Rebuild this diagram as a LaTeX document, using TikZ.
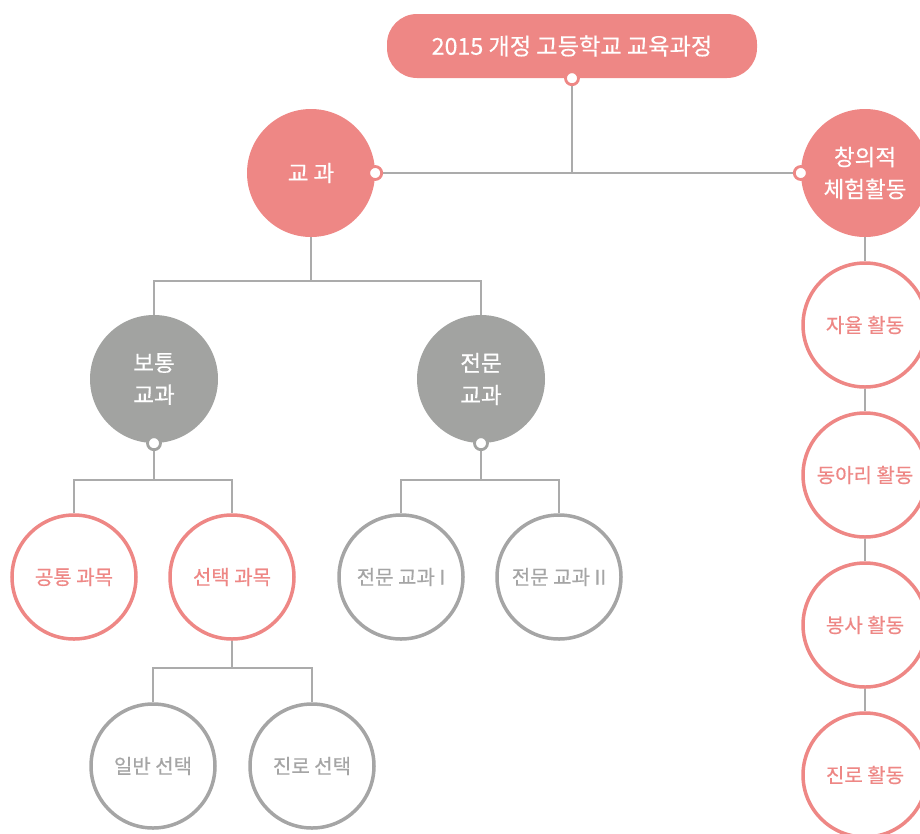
\documentclass[tikz,border=0pt]{standalone}
\usepackage{fontspec}
\setmainfont[FakeBold=0.4]{Noto Sans CJK KR}
\definecolor{pinkc}{HTML}{EE8785}
\definecolor{grayc}{HTML}{A2A3A1}
\definecolor{ringg}{HTML}{A5A5A5}
\definecolor{linegray}{HTML}{ABABAB}
\begin{document}
\begin{tikzpicture}[x=1pt,y=-1pt,
  conn/.style={draw=linegray,line width=1.4pt},
  titlebox/.style={rectangle,rounded corners=30pt,fill=pinkc,minimum width=370pt,minimum height=64pt,text=white,font=\fontsize{23.2}{28}\selectfont},
  fillpink/.style={circle,fill=pinkc,minimum size=128pt,inner sep=0pt,text=white,align=center,font=\fontsize{22.5}{32}\selectfont},
  fillgray/.style={circle,fill=grayc,minimum size=128pt,inner sep=0pt,text=white,align=center,font=\fontsize{22.5}{32}\selectfont},
  ringpink/.style={circle,draw=pinkc,line width=3.5pt,fill=white,minimum size=124pt,inner sep=0pt,text=pinkc,font=\fontsize{20}{24}\selectfont},
  ringgray/.style={circle,draw=ringg,line width=3.5pt,fill=white,minimum size=124pt,inner sep=0pt,text=ringg,font=\fontsize{20}{24}\selectfont},
  dotpink/.style={circle,draw=pinkc,fill=white,line width=2.8pt,minimum size=13pt,inner sep=0pt},
  dotgray/.style={circle,draw=grayc,fill=white,line width=2.8pt,minimum size=13pt,inner sep=0pt}
]
\useasboundingbox (0,0) rectangle (920,833);

% junction coordinates
\coordinate (jtop) at (572,173);
\coordinate (j1) at (311,281);
\coordinate (j2) at (154,480);
\coordinate (j3) at (481,480);
\coordinate (j4) at (232,668);

% main nodes
\node[titlebox] (title) at (572,46) {2015 개정 고등학교 교육과정};
\node[fillpink] (kyo) at (311,173) {교 과};
\node[fillpink] (chang) at (865,173) {창의적\\체험활동};
\node[fillgray] (botong) at (154,379) {보통\\교과};
\node[fillgray] (jeon) at (481,379) {전문\\교과};

\node[ringpink] (gong) at (74,577) {공통 과목};
\node[ringpink] (seon) at (232,577) {선택 과목};
\node[ringgray] (jeon1) at (401,577) {전문 교과 I};
\node[ringgray] (jeon2) at (559,577) {전문 교과 II};
\node[ringgray] (ilban) at (153,766) {일반 선택};
\node[ringgray] (jinro) at (312,766) {진로 선택};

\node[ringpink] (a1) at (865,325) {자율 활동};
\node[ringpink] (a2) at (865,475) {동아리 활동};
\node[ringpink] (a3) at (865,625) {봉사 활동};
\node[ringpink] (a4) at (865,775) {진로 활동};

% connectors
\draw[conn] (title.south) -- (jtop);
\draw[conn] (kyo.east) -- (chang.west);
\draw[conn] (kyo.south) -- (j1);
\draw[conn] (botong.north) |- (j1) -| (jeon.north);
\draw[conn] (botong.south) -- (j2);
\draw[conn] (gong.north) |- (j2) -| (seon.north);
\draw[conn] (jeon.south) -- (j3);
\draw[conn] (jeon1.north) |- (j3) -| (jeon2.north);
\draw[conn] (seon.south) -- (j4);
\draw[conn] (ilban.north) |- (j4) -| (jinro.north);
\draw[conn] (chang) -- (a1);
\draw[conn] (a1) -- (a2);
\draw[conn] (a2) -- (a3);
\draw[conn] (a3) -- (a4);

% dots
\node[dotpink] (dtitle) at (title.south) {};
\node[dotpink] (dkyo) at (kyo.east) {};
\node[dotpink] (dchang) at (chang.west) {};
\node[dotgray] (dbotong) at (botong.south) {};
\node[dotgray] (djeon) at (jeon.south) {};
\end{tikzpicture}
\end{document}
